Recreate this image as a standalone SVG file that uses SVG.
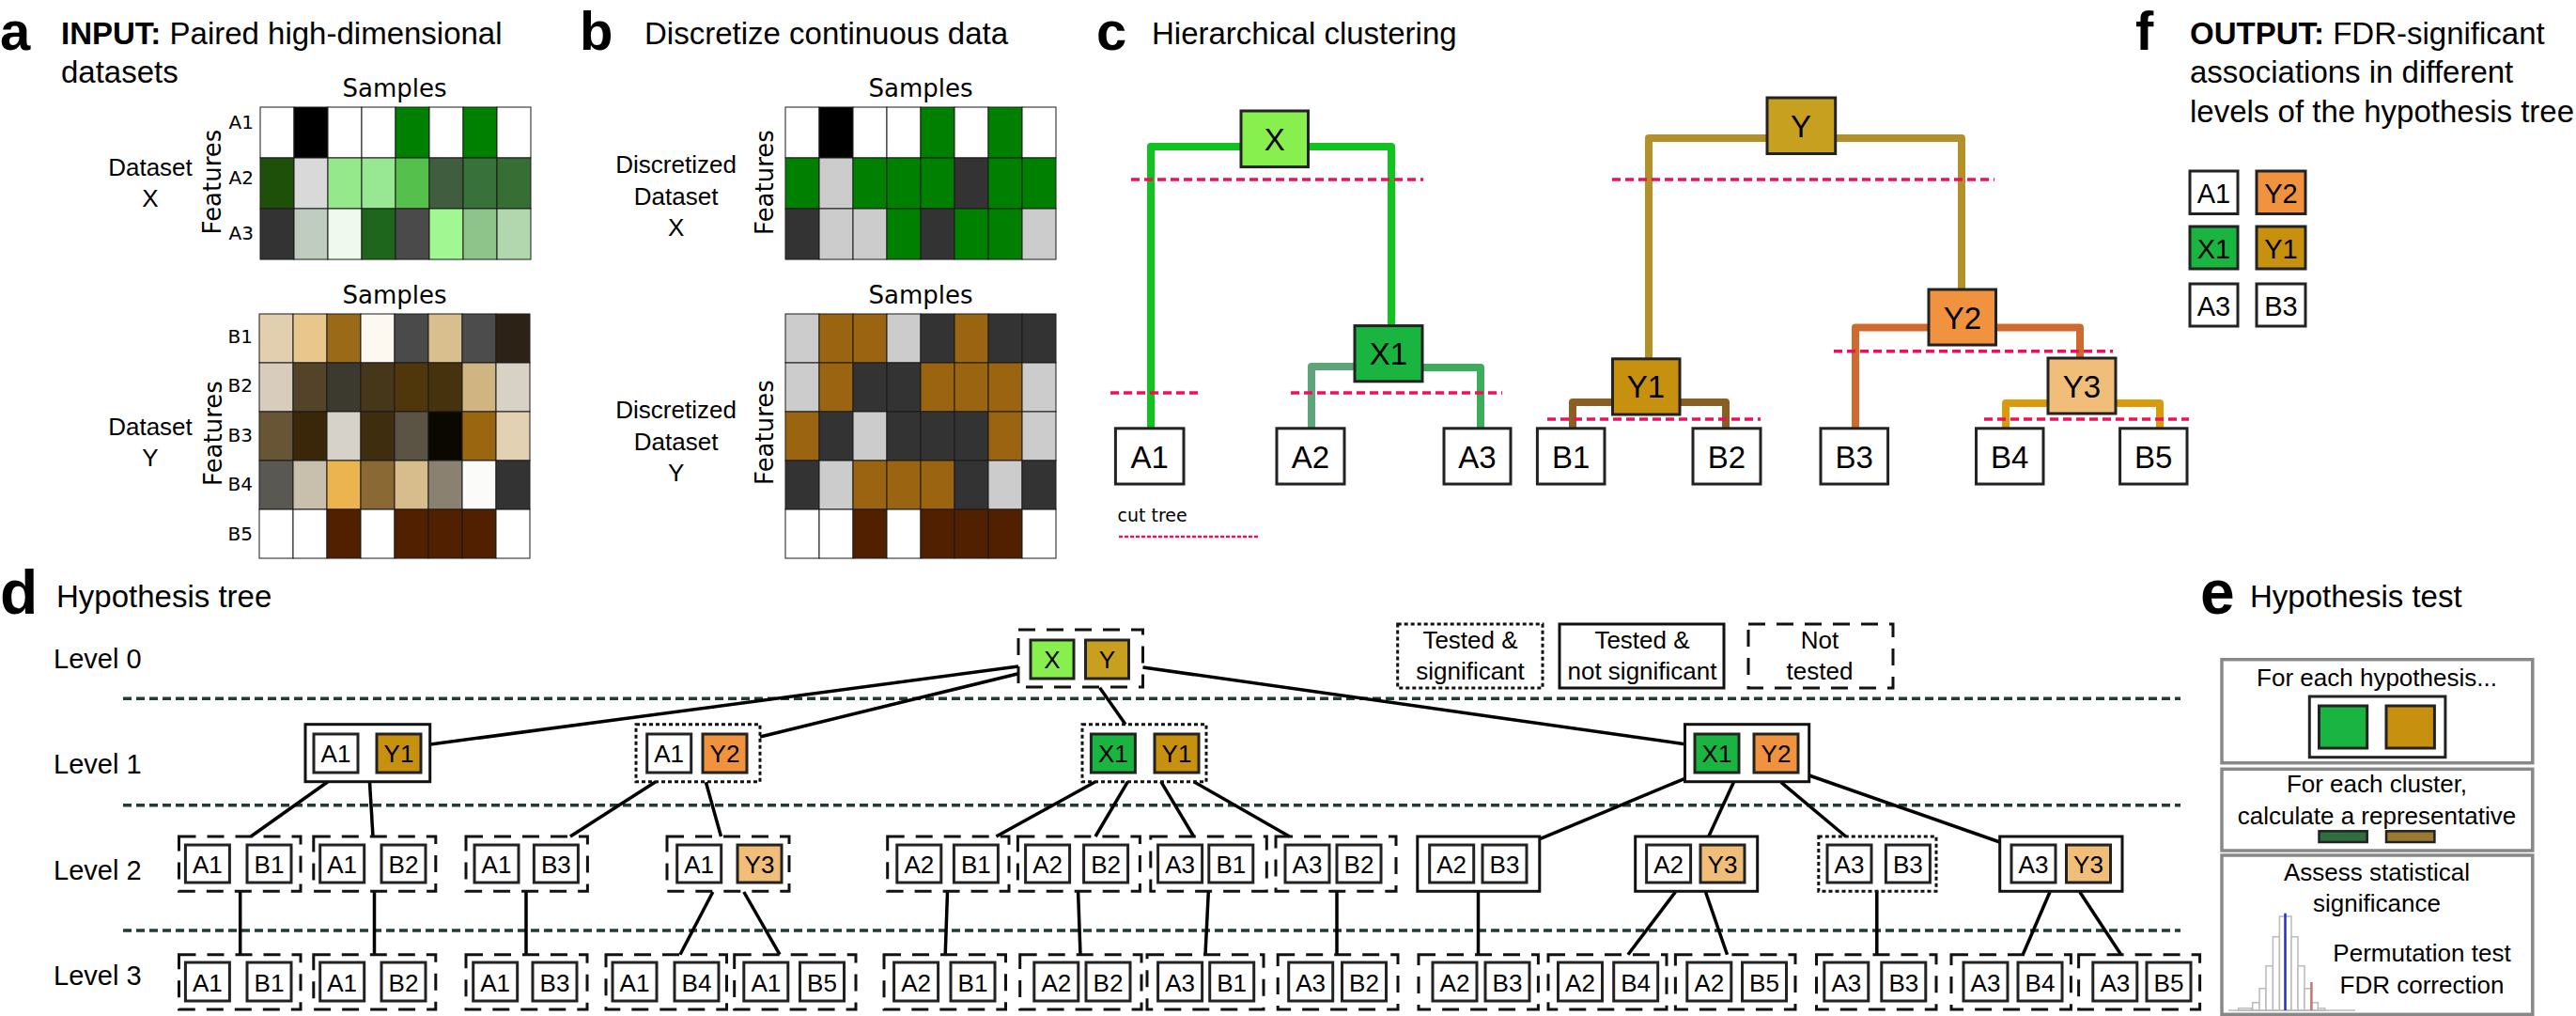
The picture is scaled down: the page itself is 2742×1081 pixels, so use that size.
<svg xmlns="http://www.w3.org/2000/svg" width="2742" height="1081" viewBox="0 0 2742 1081">
<style>
text{font-family:"Liberation Sans",Arial,sans-serif;fill:#000}
.dj{font-family:"DejaVu Sans",sans-serif}
.pl{font-size:58px;font-weight:bold}
.pl2{font-size:66px;font-weight:bold}
.ti{font-size:33px}
.hm rect{stroke:#1a1a1a;stroke-width:1}
.cb{stroke:#222;stroke-width:3}
.ct{font-size:33px;text-anchor:middle}
.cut{stroke:#f0105a;stroke-width:3.5;stroke-dasharray:9 5;fill:none}
.tr{fill:none;stroke-width:8;stroke-linejoin:round}
.ib{stroke:#222;stroke-width:3}
.nt{font-size:26px;text-anchor:middle}
.ft{font-size:29px;text-anchor:middle}
.dash{fill:none;stroke:#111;stroke-width:3;stroke-dasharray:18 12}
.dot{fill:none;stroke:#111;stroke-width:3;stroke-dasharray:4 3}
.sol{fill:none;stroke:#111;stroke-width:3}
.sep{stroke:#1e3d38;stroke-width:3.5;stroke-dasharray:9 5}
.cn line{stroke:#000;stroke-width:3.5}
.eb{fill:#fff;stroke:#888;stroke-width:3.5}
.et{font-size:26px;text-anchor:middle}
.lv{font-size:29px}
.hl{font-size:20px;text-anchor:end}
.sm{font-size:26px;text-anchor:middle}
.ds{font-size:26px;text-anchor:middle}
.hist rect{fill:#fff;stroke:#bbb;stroke-width:1.5}
</style>

<!-- Panel letters and titles -->
<g id="titles">
<text class="pl" x="0" y="53">a</text>
<text class="ti" x="65" y="47"><tspan font-weight="bold">INPUT:</tspan> Paired high-dimensional</text>
<text class="ti" x="65" y="88">datasets</text>
<text class="pl" x="617" y="53">b</text>
<text class="ti" x="686" y="47">Discretize continuous data</text>
<text class="pl" x="1167" y="53">c</text>
<text class="ti" x="1226" y="47">Hierarchical clustering</text>
<text class="pl" x="2273" y="53">f</text>
<text class="ti" x="2331" y="47"><tspan font-weight="bold">OUTPUT:</tspan> FDR-significant</text>
<text class="ti" x="2331" y="88">associations in different</text>
<text class="ti" x="2331" y="129.5" font-size="32.5">levels of the hypothesis tree</text>
<text class="pl2" x="0" y="653">d</text>
<text class="ti" x="60" y="646">Hypothesis tree</text>
<text class="pl2" x="2342" y="653">e</text>
<text class="ti" x="2395" y="646">Hypothesis test</text>
</g>

<!-- Panel a -->
<g id="panel-a">
<text class="dj sm" x="420" y="103">Samples</text>
<text class="dj sm" x="420" y="323">Samples</text>
<text class="dj sm" transform="rotate(-90 235 193.5)" x="235" y="193.5">Features</text>
<text class="dj sm" transform="rotate(-90 236 461)" x="236" y="461">Features</text>
<text class="dj hl" x="270" y="137">A1</text>
<text class="dj hl" x="270" y="196">A2</text>
<text class="dj hl" x="270" y="255">A3</text>
<text class="dj hl" x="269" y="365" font-size="19">B1</text>
<text class="dj hl" x="269" y="417" font-size="19">B2</text>
<text class="dj hl" x="269" y="470" font-size="19">B3</text>
<text class="dj hl" x="269" y="522" font-size="19">B4</text>
<text class="dj hl" x="269" y="575" font-size="19">B5</text>
<text class="ds" x="160" y="187">Dataset</text>
<text class="ds" x="160" y="220">X</text>
<text class="ds" x="160" y="462.5">Dataset</text>
<text class="ds" x="160" y="496">Y</text>
<g class="hm" id="heat-ax">
<rect x="277" y="114" width="36" height="54" fill="#ffffff"/><rect x="313" y="114" width="36" height="54" fill="#000000"/><rect x="349" y="114" width="36" height="54" fill="#ffffff"/><rect x="385" y="114" width="36" height="54" fill="#ffffff"/><rect x="421" y="114" width="36" height="54" fill="#008000"/><rect x="457" y="114" width="36" height="54" fill="#ffffff"/><rect x="493" y="114" width="36" height="54" fill="#008000"/><rect x="529" y="114" width="36" height="54" fill="#ffffff"/>
<rect x="277" y="168" width="36" height="54" fill="#1f500a"/><rect x="313" y="168" width="36" height="54" fill="#d9d9d9"/><rect x="349" y="168" width="36" height="54" fill="#95e98a"/><rect x="385" y="168" width="36" height="54" fill="#98e792"/><rect x="421" y="168" width="36" height="54" fill="#55c04c"/><rect x="457" y="168" width="36" height="54" fill="#405e3f"/><rect x="493" y="168" width="36" height="54" fill="#387139"/><rect x="529" y="168" width="36" height="54" fill="#376e33"/>
<rect x="277" y="222" width="36" height="54" fill="#333333"/><rect x="313" y="222" width="36" height="54" fill="#c1ccc0"/><rect x="349" y="222" width="36" height="54" fill="#eff9ee"/><rect x="385" y="222" width="36" height="54" fill="#1d661b"/><rect x="421" y="222" width="36" height="54" fill="#4a4a4a"/><rect x="457" y="222" width="36" height="54" fill="#a1f893"/><rect x="493" y="222" width="36" height="54" fill="#8ec48a"/><rect x="529" y="222" width="36" height="54" fill="#b2d7ae"/>
</g>
<g class="hm" id="heat-ay">
<rect x="276" y="334" width="36" height="52" fill="#e2cfb0"/><rect x="312" y="334" width="36" height="52" fill="#e8c68c"/><rect x="348" y="334" width="36" height="52" fill="#9a6a18"/><rect x="384" y="334" width="36" height="52" fill="#fdf9f1"/><rect x="420" y="334" width="36" height="52" fill="#4a4a4a"/><rect x="456" y="334" width="36" height="52" fill="#dabf8e"/><rect x="492" y="334" width="36" height="52" fill="#4c4c4c"/><rect x="528" y="334" width="36" height="52" fill="#2c2316"/>
<rect x="276" y="386" width="36" height="52" fill="#d8cdbc"/><rect x="312" y="386" width="36" height="52" fill="#534329"/><rect x="348" y="386" width="36" height="52" fill="#3c392f"/><rect x="384" y="386" width="36" height="52" fill="#46361a"/><rect x="420" y="386" width="36" height="52" fill="#4f360b"/><rect x="456" y="386" width="36" height="52" fill="#46320c"/><rect x="492" y="386" width="36" height="52" fill="#d0b482"/><rect x="528" y="386" width="36" height="52" fill="#d8d1c6"/>
<rect x="276" y="438" width="36" height="52" fill="#675535"/><rect x="312" y="438" width="36" height="52" fill="#3a2709"/><rect x="348" y="438" width="36" height="52" fill="#d6d2ca"/><rect x="384" y="438" width="36" height="52" fill="#3f2d10"/><rect x="420" y="438" width="36" height="52" fill="#5b5445"/><rect x="456" y="438" width="36" height="52" fill="#0b0802"/><rect x="492" y="438" width="36" height="52" fill="#9b6610"/><rect x="528" y="438" width="36" height="52" fill="#e2d1b2"/>
<rect x="276" y="490" width="36" height="52" fill="#5a5853"/><rect x="312" y="490" width="36" height="52" fill="#c8bfad"/><rect x="348" y="490" width="36" height="52" fill="#ecb44f"/><rect x="384" y="490" width="36" height="52" fill="#8b6934"/><rect x="420" y="490" width="36" height="52" fill="#d8bd8c"/><rect x="456" y="490" width="36" height="52" fill="#8a8171"/><rect x="492" y="490" width="36" height="52" fill="#fbfbf9"/><rect x="528" y="490" width="36" height="52" fill="#333333"/>
<rect x="276" y="542" width="36" height="52" fill="#ffffff"/><rect x="312" y="542" width="36" height="52" fill="#ffffff"/><rect x="348" y="542" width="36" height="52" fill="#502000"/><rect x="384" y="542" width="36" height="52" fill="#ffffff"/><rect x="420" y="542" width="36" height="52" fill="#502000"/><rect x="456" y="542" width="36" height="52" fill="#502000"/><rect x="492" y="542" width="36" height="52" fill="#502000"/><rect x="528" y="542" width="36" height="52" fill="#ffffff"/>
</g>
</g>

<!-- Panel b -->
<g id="panel-b">
<text class="dj sm" x="980" y="103">Samples</text>
<text class="dj sm" x="980" y="323">Samples</text>
<text class="dj sm" transform="rotate(-90 823 194)" x="823" y="194">Features</text>
<text class="dj sm" transform="rotate(-90 823 460)" x="823" y="460">Features</text>
<text class="ds" x="719.6" y="184">Discretized</text>
<text class="ds" x="719.6" y="218">Dataset</text>
<text class="ds" x="719.6" y="251">X</text>
<text class="ds" x="719.6" y="445">Discretized</text>
<text class="ds" x="719.6" y="479">Dataset</text>
<text class="ds" x="719.6" y="512">Y</text>
<g class="hm" id="heat-bx">
<rect x="836" y="114" width="36" height="54" fill="#ffffff"/><rect x="872" y="114" width="36" height="54" fill="#000000"/><rect x="908" y="114" width="36" height="54" fill="#ffffff"/><rect x="944" y="114" width="36" height="54" fill="#ffffff"/><rect x="980" y="114" width="36" height="54" fill="#008000"/><rect x="1016" y="114" width="36" height="54" fill="#ffffff"/><rect x="1052" y="114" width="36" height="54" fill="#008000"/><rect x="1088" y="114" width="36" height="54" fill="#ffffff"/>
<rect x="836" y="168" width="36" height="54" fill="#008000"/><rect x="872" y="168" width="36" height="54" fill="#cccccc"/><rect x="908" y="168" width="36" height="54" fill="#008000"/><rect x="944" y="168" width="36" height="54" fill="#008000"/><rect x="980" y="168" width="36" height="54" fill="#008000"/><rect x="1016" y="168" width="36" height="54" fill="#333333"/><rect x="1052" y="168" width="36" height="54" fill="#008000"/><rect x="1088" y="168" width="36" height="54" fill="#008000"/>
<rect x="836" y="222" width="36" height="54" fill="#333333"/><rect x="872" y="222" width="36" height="54" fill="#cccccc"/><rect x="908" y="222" width="36" height="54" fill="#cccccc"/><rect x="944" y="222" width="36" height="54" fill="#008000"/><rect x="980" y="222" width="36" height="54" fill="#333333"/><rect x="1016" y="222" width="36" height="54" fill="#008000"/><rect x="1052" y="222" width="36" height="54" fill="#008000"/><rect x="1088" y="222" width="36" height="54" fill="#cccccc"/>
</g>
<g class="hm" id="heat-by">
<rect x="836" y="334" width="36" height="52" fill="#cccccc"/><rect x="872" y="334" width="36" height="52" fill="#9a6410"/><rect x="908" y="334" width="36" height="52" fill="#9a6410"/><rect x="944" y="334" width="36" height="52" fill="#cccccc"/><rect x="980" y="334" width="36" height="52" fill="#333333"/><rect x="1016" y="334" width="36" height="52" fill="#9a6410"/><rect x="1052" y="334" width="36" height="52" fill="#333333"/><rect x="1088" y="334" width="36" height="52" fill="#333333"/>
<rect x="836" y="386" width="36" height="52" fill="#cccccc"/><rect x="872" y="386" width="36" height="52" fill="#9a6410"/><rect x="908" y="386" width="36" height="52" fill="#333333"/><rect x="944" y="386" width="36" height="52" fill="#333333"/><rect x="980" y="386" width="36" height="52" fill="#9a6410"/><rect x="1016" y="386" width="36" height="52" fill="#9a6410"/><rect x="1052" y="386" width="36" height="52" fill="#9a6410"/><rect x="1088" y="386" width="36" height="52" fill="#cccccc"/>
<rect x="836" y="438" width="36" height="52" fill="#9a6410"/><rect x="872" y="438" width="36" height="52" fill="#333333"/><rect x="908" y="438" width="36" height="52" fill="#cccccc"/><rect x="944" y="438" width="36" height="52" fill="#333333"/><rect x="980" y="438" width="36" height="52" fill="#333333"/><rect x="1016" y="438" width="36" height="52" fill="#333333"/><rect x="1052" y="438" width="36" height="52" fill="#9a6410"/><rect x="1088" y="438" width="36" height="52" fill="#cccccc"/>
<rect x="836" y="490" width="36" height="52" fill="#333333"/><rect x="872" y="490" width="36" height="52" fill="#cccccc"/><rect x="908" y="490" width="36" height="52" fill="#9a6410"/><rect x="944" y="490" width="36" height="52" fill="#9a6410"/><rect x="980" y="490" width="36" height="52" fill="#9a6410"/><rect x="1016" y="490" width="36" height="52" fill="#333333"/><rect x="1052" y="490" width="36" height="52" fill="#cccccc"/><rect x="1088" y="490" width="36" height="52" fill="#333333"/>
<rect x="836" y="542" width="36" height="52" fill="#ffffff"/><rect x="872" y="542" width="36" height="52" fill="#ffffff"/><rect x="908" y="542" width="36" height="52" fill="#502000"/><rect x="944" y="542" width="36" height="52" fill="#ffffff"/><rect x="980" y="542" width="36" height="52" fill="#502000"/><rect x="1016" y="542" width="36" height="52" fill="#502000"/><rect x="1052" y="542" width="36" height="52" fill="#502000"/><rect x="1088" y="542" width="36" height="52" fill="#ffffff"/>
</g>
</g>

<!-- Panel c: dendrogram -->
<g id="c-connectors">
<path class="tr" stroke="#10c31e" d="M1321 156H1225V456"/>
<path class="tr" stroke="#10c31e" d="M1392 156H1481V347"/>
<path class="tr" stroke="#5fa57a" d="M1442 390H1396V456"/>
<path class="tr" stroke="#3cad5c" d="M1514 391H1576V456"/>
<path class="tr" stroke="#b39128" d="M1881 147H1755V382"/>
<path class="tr" stroke="#b39128" d="M1954 147H2088V308"/>
<path class="tr" stroke="#8a5f22" d="M1716 428H1674V456"/>
<path class="tr" stroke="#8a5f22" d="M1788 428H1837V456"/>
<path class="tr" stroke="#cf6a2e" d="M2053 348.5H1975V456"/>
<path class="tr" stroke="#cf6a2e" d="M2124 348.5H2214V381"/>
<path class="tr" stroke="#d99a0c" d="M2180 429H2135V456"/>
<path class="tr" stroke="#d99a0c" d="M2252 429H2299V456"/>
</g>
<g id="c-X"><rect class="cb" x="1321" y="118" width="71.5" height="59.6" fill="#88f04e"/><text class="ct" x="1356.8" y="160">X</text></g>
<g id="c-X1"><rect class="cb" x="1442" y="346.6" width="72" height="59.2" fill="#1ab540"/><text class="ct" x="1478" y="388">X1</text></g>
<g id="c-Y"><rect class="cb" x="1881" y="104" width="72.7" height="59.5" fill="#c8a020"/><text class="ct" x="1917" y="146">Y</text></g>
<g id="c-Y1"><rect class="cb" x="1716.5" y="381.8" width="71.5" height="59.2" fill="#c8900f"/><text class="ct" x="1752" y="423">Y1</text></g>
<g id="c-Y2"><rect class="cb" x="2053" y="308" width="71.5" height="59" fill="#f0923e"/><text class="ct" x="2089" y="349.5">Y2</text></g>
<g id="c-Y3"><rect class="cb" x="2180" y="381" width="72" height="59" fill="#f0be78"/><text class="ct" x="2216" y="422.5">Y3</text></g>
<g id="c-A1"><rect class="cb" x="1187.4" y="455.8" width="72.6" height="59.2" fill="#fff"/><text class="ct" x="1223.7" y="497.5">A1</text></g>
<g id="c-A2"><rect class="cb" x="1359" y="455.8" width="72" height="59.2" fill="#fff"/><text class="ct" x="1395" y="497.5">A2</text></g>
<g id="c-A3"><rect class="cb" x="1537" y="455.8" width="71" height="59.2" fill="#fff"/><text class="ct" x="1572.5" y="497.5">A3</text></g>
<g id="c-B1"><rect class="cb" x="1636.4" y="455.8" width="71.6" height="59.2" fill="#fff"/><text class="ct" x="1672.2" y="497.5">B1</text></g>
<g id="c-B2"><rect class="cb" x="1802" y="455.8" width="72" height="59.2" fill="#fff"/><text class="ct" x="1838" y="497.5">B2</text></g>
<g id="c-B3"><rect class="cb" x="1938" y="455.8" width="71.6" height="59.2" fill="#fff"/><text class="ct" x="1973.8" y="497.5">B3</text></g>
<g id="c-B4"><rect class="cb" x="2103.5" y="455.8" width="71.5" height="59.2" fill="#fff"/><text class="ct" x="2139.2" y="497.5">B4</text></g>
<g id="c-B5"><rect class="cb" x="2256.6" y="455.8" width="71.4" height="59.2" fill="#fff"/><text class="ct" x="2292.3" y="497.5">B5</text></g>
<g id="c-cuts">
<line class="cut" x1="1204" y1="191" x2="1515" y2="191"/>
<line class="cut" x1="1716" y1="191" x2="2123" y2="191"/>
<line class="cut" x1="1182" y1="418" x2="1275" y2="418"/>
<line class="cut" x1="1374" y1="418" x2="1599" y2="418"/>
<line class="cut" x1="1647" y1="446" x2="1874" y2="446"/>
<line class="cut" x1="1952" y1="373.7" x2="2249" y2="373.7"/>
<line class="cut" x1="2112" y1="446" x2="2330" y2="446"/>
<text class="dj" x="1189.5" y="555" font-size="19">cut tree</text>
<line x1="1191" y1="571" x2="1339" y2="571" stroke="#f0105a" stroke-width="2.5" stroke-dasharray="4 2"/>
</g>

<!-- Panel f -->
<g id="f-A1"><rect class="cb" x="2331" y="182" width="51" height="45.5" fill="#fff"/><text class="ft" x="2356.5" y="216">A1</text></g>
<g id="f-Y2"><rect class="cb" x="2402" y="182" width="52" height="45.5" fill="#f0923e"/><text class="ft" x="2428" y="216">Y2</text></g>
<g id="f-X1"><rect class="cb" x="2331" y="241" width="51" height="45" fill="#1ab540"/><text class="ft" x="2356.5" y="275">X1</text></g>
<g id="f-Y1"><rect class="cb" x="2402" y="241" width="52" height="45" fill="#c8900f"/><text class="ft" x="2428" y="275">Y1</text></g>
<g id="f-A3"><rect class="cb" x="2331" y="302" width="51" height="45" fill="#fff"/><text class="ft" x="2356.5" y="336">A3</text></g>
<g id="f-B3"><rect class="cb" x="2402" y="302" width="52" height="45" fill="#fff"/><text class="ft" x="2428" y="336">B3</text></g>

<!-- Panel d -->
<g id="d-levels">
<text class="lv" x="57" y="711">Level 0</text>
<text class="lv" x="57" y="823">Level 1</text>
<text class="lv" x="57" y="936">Level 2</text>
<text class="lv" x="57" y="1048">Level 3</text>
<line class="sep" x1="131" y1="743.3" x2="2321" y2="743.3"/>
<line class="sep" x1="131" y1="856.7" x2="2321" y2="856.7"/>
<line class="sep" x1="131" y1="990" x2="2321" y2="990"/>
</g>
<g id="d-legend">
<rect class="dot" x="1487.7" y="664" width="154.3" height="68"/>
<text class="et" x="1565" y="690">Tested &amp;</text><text class="et" x="1565" y="722.7">significant</text>
<rect class="sol" x="1660" y="664" width="175" height="68"/>
<text class="et" x="1748" y="690">Tested &amp;</text><text class="et" x="1748" y="722.7">not significant</text>
<rect class="dash" x="1861" y="664" width="154" height="68"/>
<text class="et" x="1937" y="690">Not</text><text class="et" x="1937" y="722.7">tested</text>
</g>
<g id="d-connectors" class="cn">
<line x1="1084" y1="709" x2="458" y2="792"/>
<line x1="1084" y1="716.7" x2="809" y2="784"/>
<line x1="1170.6" y1="731.7" x2="1198" y2="770.7"/>
<line x1="1216.5" y1="710" x2="1793.5" y2="791.7"/>
<line x1="349" y1="831.7" x2="267" y2="890"/>
<line x1="393.5" y1="832.3" x2="397" y2="890"/>
<line x1="698" y1="831.7" x2="607" y2="890"/>
<line x1="751.4" y1="832.3" x2="767.5" y2="890"/>
<line x1="1166" y1="831.7" x2="1060.4" y2="890"/>
<line x1="1200.5" y1="831.7" x2="1166" y2="890"/>
<line x1="1235.8" y1="831.7" x2="1270.7" y2="890"/>
<line x1="1270.7" y1="831.7" x2="1372.6" y2="890"/>
<line x1="1793.5" y1="828.3" x2="1639.7" y2="892.3"/>
<line x1="1845.4" y1="832.3" x2="1818.7" y2="890"/>
<line x1="1895.9" y1="832.3" x2="1964.7" y2="890"/>
<line x1="1925.7" y1="825" x2="2128.7" y2="896"/>
<line x1="255.7" y1="948.3" x2="255.7" y2="1015.7"/>
<line x1="398.5" y1="948.3" x2="398.5" y2="1015.7"/>
<line x1="560" y1="948.3" x2="560" y2="1015.7"/>
<line x1="758.8" y1="949" x2="723.9" y2="1015.7"/>
<line x1="791.8" y1="949" x2="830" y2="1015.7"/>
<line x1="1008.5" y1="949" x2="1006.2" y2="1015.7"/>
<line x1="1147.6" y1="949" x2="1150" y2="1015.7"/>
<line x1="1286.3" y1="949" x2="1283" y2="1015.7"/>
<line x1="1423" y1="948.3" x2="1423" y2="1015.7"/>
<line x1="1573.5" y1="948.3" x2="1573.5" y2="1015.7"/>
<line x1="1783.4" y1="949" x2="1732.9" y2="1015.7"/>
<line x1="1815.5" y1="949" x2="1838.5" y2="1015.7"/>
<line x1="1997.8" y1="948.3" x2="1997.8" y2="1015.7"/>
<line x1="2182" y1="949" x2="2153.2" y2="1015.7"/>
<line x1="2213.8" y1="949" x2="2257.7" y2="1015.7"/>
</g>

<g id="d-L0"><rect class="dash" x="1084" y="670" width="132.5" height="61"/><rect class="ib" x="1097" y="681" width="46" height="41" fill="#88f04e"/><rect class="ib" x="1155.5" y="681" width="46" height="41" fill="#c8a020"/><text class="nt" x="1120" y="711">X</text><text class="nt" x="1178.5" y="711">Y</text></g>

<g id="d-L1-A1Y1"><rect class="sol" x="325" y="770.7" width="132.7" height="61"/><rect class="ib" x="334" y="781" width="47" height="41" fill="#fff"/><rect class="ib" x="401" y="781" width="47" height="41" fill="#c8900f"/><text class="nt" x="357.5" y="811">A1</text><text class="nt" x="424.5" y="811">Y1</text></g>
<g id="d-L1-A1Y2"><rect class="dot" x="677" y="770.7" width="132" height="61"/><rect class="ib" x="688.7" y="781" width="47" height="41" fill="#fff"/><rect class="ib" x="748" y="781" width="47" height="41" fill="#f0923e"/><text class="nt" x="712.2" y="811">A1</text><text class="nt" x="771.5" y="811">Y2</text></g>
<g id="d-L1-X1Y1"><rect class="dot" x="1152" y="770.7" width="132" height="61"/><rect class="ib" x="1161.4" y="781" width="47" height="41" fill="#1ab540"/><rect class="ib" x="1229" y="781" width="47" height="41" fill="#c8900f"/><text class="nt" x="1184.9" y="811">X1</text><text class="nt" x="1252.5" y="811">Y1</text></g>
<g id="d-L1-X1Y2"><rect class="sol" x="1793.5" y="770.7" width="132.2" height="61"/><rect class="ib" x="1804" y="781" width="47" height="41" fill="#1ab540"/><rect class="ib" x="1867" y="781" width="47" height="41" fill="#f0923e"/><text class="nt" x="1827.5" y="811">X1</text><text class="nt" x="1890.5" y="811">Y2</text></g>

<g id="d-L2-A1B1"><rect class="dash" x="190.5" y="890" width="129.5" height="58.3"/><rect class="ib" x="197.4" y="899" width="47" height="40" fill="#fff"/><rect class="ib" x="263" y="899" width="47" height="40" fill="#fff"/><text class="nt" x="220.9" y="929">A1</text><text class="nt" x="286.5" y="929">B1</text></g>
<g id="d-L2-A1B2"><rect class="dash" x="333.8" y="890" width="130" height="58.3"/><rect class="ib" x="340.7" y="899" width="47" height="40" fill="#fff"/><rect class="ib" x="406" y="899" width="47" height="40" fill="#fff"/><text class="nt" x="364.2" y="929">A1</text><text class="nt" x="429.5" y="929">B2</text></g>
<g id="d-L2-A1B3"><rect class="dash" x="496" y="890" width="129.4" height="58.3"/><rect class="ib" x="505" y="899" width="47" height="40" fill="#fff"/><rect class="ib" x="568.4" y="899" width="47" height="40" fill="#fff"/><text class="nt" x="528.5" y="929">A1</text><text class="nt" x="591.9" y="929">B3</text></g>
<g id="d-L2-A1Y3"><rect class="dash" x="710" y="890" width="130" height="58.3"/><rect class="ib" x="720.7" y="899" width="47" height="40" fill="#fff"/><rect class="ib" x="785" y="899" width="47" height="40" fill="#f0be78"/><text class="nt" x="744.2" y="929">A1</text><text class="nt" x="808.5" y="929">Y3</text></g>
<g id="d-L2-A2B1"><rect class="dash" x="944.7" y="890" width="129.3" height="58.3"/><rect class="ib" x="954.8" y="899" width="47" height="40" fill="#fff"/><rect class="ib" x="1015.4" y="899" width="47" height="40" fill="#fff"/><text class="nt" x="978.3" y="929">A2</text><text class="nt" x="1038.9" y="929">B1</text></g>
<g id="d-L2-A2B2"><rect class="dash" x="1083.4" y="890" width="130" height="58.3"/><rect class="ib" x="1091.6" y="899" width="47" height="40" fill="#fff"/><rect class="ib" x="1153.6" y="899" width="47" height="40" fill="#fff"/><text class="nt" x="1115.1" y="929">A2</text><text class="nt" x="1177.1" y="929">B2</text></g>
<g id="d-L2-A3B1"><rect class="dash" x="1224.8" y="890" width="123.5" height="58.3"/><rect class="ib" x="1232.6" y="899" width="47" height="40" fill="#fff"/><rect class="ib" x="1286.8" y="899" width="47" height="40" fill="#fff"/><text class="nt" x="1256.1" y="929">A3</text><text class="nt" x="1310.3" y="929">B1</text></g>
<g id="d-L2-A3B2"><rect class="dash" x="1358" y="890" width="128" height="58.3"/><rect class="ib" x="1368" y="899" width="47" height="40" fill="#fff"/><rect class="ib" x="1423" y="899" width="47" height="40" fill="#fff"/><text class="nt" x="1391.5" y="929">A3</text><text class="nt" x="1446.5" y="929">B2</text></g>
<g id="d-L2-A2B3"><rect class="sol" x="1508.8" y="890" width="130" height="58.3"/><rect class="ib" x="1521.7" y="899" width="47" height="40" fill="#fff"/><rect class="ib" x="1578" y="899" width="47" height="40" fill="#fff"/><text class="nt" x="1545.2" y="929">A2</text><text class="nt" x="1601.5" y="929">B3</text></g>
<g id="d-L2-A2Y3"><rect class="sol" x="1740.7" y="890" width="130" height="58.3"/><rect class="ib" x="1752.6" y="899" width="47" height="40" fill="#fff"/><rect class="ib" x="1810" y="899" width="47" height="40" fill="#f0be78"/><text class="nt" x="1776.1" y="929">A2</text><text class="nt" x="1833.5" y="929">Y3</text></g>
<g id="d-L2-A3B3"><rect class="dot" x="1935.8" y="890" width="125.2" height="58.3"/><rect class="ib" x="1945" y="899" width="47" height="40" fill="#fff"/><rect class="ib" x="2007.4" y="899" width="47" height="40" fill="#fff"/><text class="nt" x="1968.5" y="929">A3</text><text class="nt" x="2030.9" y="929">B3</text></g>
<g id="d-L2-A3Y3"><rect class="sol" x="2128.7" y="890" width="130.3" height="58.3"/><rect class="ib" x="2141" y="899" width="47" height="40" fill="#fff"/><rect class="ib" x="2199.5" y="899" width="47" height="40" fill="#f0be78"/><text class="nt" x="2164.5" y="929">A3</text><text class="nt" x="2223" y="929">Y3</text></g>

<g id="d-L3-A1B1"><rect class="dash" x="190.5" y="1015.7" width="129.5" height="58.3"/><rect class="ib" x="197.4" y="1024" width="47" height="41" fill="#fff"/><rect class="ib" x="263" y="1024" width="47" height="41" fill="#fff"/><text class="nt" x="220.9" y="1055">A1</text><text class="nt" x="286.5" y="1055">B1</text></g>
<g id="d-L3-A1B2"><rect class="dash" x="333.8" y="1015.7" width="130" height="58.3"/><rect class="ib" x="340.7" y="1024" width="47" height="41" fill="#fff"/><rect class="ib" x="406" y="1024" width="47" height="41" fill="#fff"/><text class="nt" x="364.2" y="1055">A1</text><text class="nt" x="429.5" y="1055">B2</text></g>
<g id="d-L3-A1B3"><rect class="dash" x="496" y="1015.7" width="129" height="58.3"/><rect class="ib" x="503.7" y="1024" width="47" height="41" fill="#fff"/><rect class="ib" x="567" y="1024" width="47" height="41" fill="#fff"/><text class="nt" x="527.2" y="1055">A1</text><text class="nt" x="590.5" y="1055">B3</text></g>
<g id="d-L3-A1B4"><rect class="dash" x="645" y="1015.7" width="128.5" height="58.3"/><rect class="ib" x="652" y="1024" width="47" height="41" fill="#fff"/><rect class="ib" x="718" y="1024" width="47" height="41" fill="#fff"/><text class="nt" x="675.5" y="1055">A1</text><text class="nt" x="741.5" y="1055">B4</text></g>
<g id="d-L3-A1B5"><rect class="dash" x="781.7" y="1015.7" width="129.3" height="58.3"/><rect class="ib" x="791.8" y="1024" width="47" height="41" fill="#fff"/><rect class="ib" x="851.5" y="1024" width="47" height="41" fill="#fff"/><text class="nt" x="815.3" y="1055">A1</text><text class="nt" x="875" y="1055">B5</text></g>
<g id="d-L3-A2B1"><rect class="dash" x="941" y="1015.7" width="129.5" height="58.3"/><rect class="ib" x="951.6" y="1024" width="47" height="41" fill="#fff"/><rect class="ib" x="1012" y="1024" width="47" height="41" fill="#fff"/><text class="nt" x="975.1" y="1055">A2</text><text class="nt" x="1035.5" y="1055">B1</text></g>
<g id="d-L3-A2B2"><rect class="dash" x="1085.7" y="1015.7" width="129.3" height="58.3"/><rect class="ib" x="1100.8" y="1024" width="47" height="41" fill="#fff"/><rect class="ib" x="1156" y="1024" width="47" height="41" fill="#fff"/><text class="nt" x="1124.3" y="1055">A2</text><text class="nt" x="1179.5" y="1055">B2</text></g>
<g id="d-L3-A3B1"><rect class="dash" x="1221" y="1015.7" width="124" height="58.3"/><rect class="ib" x="1232.6" y="1024" width="47" height="41" fill="#fff"/><rect class="ib" x="1287.7" y="1024" width="47" height="41" fill="#fff"/><text class="nt" x="1256.1" y="1055">A3</text><text class="nt" x="1311.2" y="1055">B1</text></g>
<g id="d-L3-A3B2"><rect class="dash" x="1360.2" y="1015.7" width="127.8" height="58.3"/><rect class="ib" x="1371.7" y="1024" width="47" height="41" fill="#fff"/><rect class="ib" x="1428.5" y="1024" width="47" height="41" fill="#fff"/><text class="nt" x="1395.2" y="1055">A3</text><text class="nt" x="1452" y="1055">B2</text></g>
<g id="d-L3-A2B3"><rect class="dash" x="1510" y="1015.7" width="127.4" height="58.3"/><rect class="ib" x="1525" y="1024" width="47" height="41" fill="#fff"/><rect class="ib" x="1581" y="1024" width="47" height="41" fill="#fff"/><text class="nt" x="1548.5" y="1055">A2</text><text class="nt" x="1604.5" y="1055">B3</text></g>
<g id="d-L3-A2B4"><rect class="dash" x="1648" y="1015.7" width="126" height="58.3"/><rect class="ib" x="1658.5" y="1024" width="47" height="41" fill="#fff"/><rect class="ib" x="1717.7" y="1024" width="47" height="41" fill="#fff"/><text class="nt" x="1682" y="1055">A2</text><text class="nt" x="1741.2" y="1055">B4</text></g>
<g id="d-L3-A2B5"><rect class="dash" x="1783.4" y="1015.7" width="127.6" height="58.3"/><rect class="ib" x="1795.8" y="1024" width="47" height="41" fill="#fff"/><rect class="ib" x="1854.5" y="1024" width="47" height="41" fill="#fff"/><text class="nt" x="1819.3" y="1055">A2</text><text class="nt" x="1878" y="1055">B5</text></g>
<g id="d-L3-A3B3"><rect class="dash" x="1933.5" y="1015.7" width="127.5" height="58.3"/><rect class="ib" x="1941.8" y="1024" width="47" height="41" fill="#fff"/><rect class="ib" x="2002.8" y="1024" width="47" height="41" fill="#fff"/><text class="nt" x="1965.3" y="1055">A3</text><text class="nt" x="2026.3" y="1055">B3</text></g>
<g id="d-L3-A3B4"><rect class="dash" x="2077" y="1015.7" width="127.4" height="58.3"/><rect class="ib" x="2090" y="1024" width="47" height="41" fill="#fff"/><rect class="ib" x="2148" y="1024" width="47" height="41" fill="#fff"/><text class="nt" x="2113.5" y="1055">A3</text><text class="nt" x="2171.5" y="1055">B4</text></g>
<g id="d-L3-A3B5"><rect class="dash" x="2212.6" y="1015.7" width="129" height="58.3"/><rect class="ib" x="2227.8" y="1024" width="47" height="41" fill="#fff"/><rect class="ib" x="2285" y="1024" width="47" height="41" fill="#fff"/><text class="nt" x="2251.3" y="1055">A3</text><text class="nt" x="2308.5" y="1055">B5</text></g>

<!-- Panel e -->
<g id="e-step1">
<rect class="eb" x="2365" y="701.7" width="330.8" height="110"/>
<text class="et" x="2530" y="730">For each hypothesis...</text>
<rect class="ib" x="2458.3" y="741" width="144.6" height="64.7" fill="#fff"/>
<rect class="ib" x="2468.5" y="751" width="51.2" height="45" fill="#1ab540"/>
<rect class="ib" x="2540" y="751" width="51.4" height="45" fill="#c8900f"/>
</g>
<g id="e-step2">
<rect class="eb" x="2365" y="818.3" width="330.8" height="86.7"/>
<text class="et" x="2530" y="843.3">For each cluster,</text>
<text class="et" x="2530" y="876.7">calculate a representative</text>
<rect x="2468.5" y="884.3" width="51.2" height="11.7" fill="#2e6e3e" stroke="#222" stroke-width="2.5"/>
<rect x="2540" y="884.3" width="51.4" height="11.7" fill="#9a7a30" stroke="#222" stroke-width="2.5"/>
</g>
<g id="e-step3">
<rect class="eb" x="2365" y="910" width="330.8" height="169.3"/>
<text class="et" x="2530" y="936.7">Assess statistical</text>
<text class="et" x="2530" y="970">significance</text>
<g class="hist">
<rect x="2382.6" y="1072.7" width="14" height="2.3"/>
<rect x="2397.7" y="1066.7" width="7.3" height="8.3"/>
<rect x="2405" y="1051.7" width="7" height="23.3"/>
<rect x="2412" y="1027.7" width="7.4" height="47.3"/>
<rect x="2419.4" y="996.7" width="7" height="78.3"/>
<rect x="2426.4" y="975" width="12.6" height="100"/>
<rect x="2439" y="996.7" width="7" height="78.3"/>
<rect x="2446" y="1027.7" width="7" height="47.3"/>
<rect x="2453" y="1051.7" width="7.4" height="23.3"/>
<rect x="2460.4" y="1066.7" width="7" height="8.3"/>
<rect x="2467.4" y="1072.7" width="7.4" height="2.3"/>
</g>
<line x1="2372" y1="1075" x2="2507" y2="1075" stroke="#bbb" stroke-width="1.5"/>
<line x1="2432.5" y1="971.7" x2="2432.5" y2="1075" stroke="#1a2ee0" stroke-width="2.5"/>
<line x1="2460.4" y1="1045" x2="2460.4" y2="1075" stroke="#d07070" stroke-width="2.5"/>
<text class="et" x="2578" y="1023.3">Permutation test</text>
<text class="et" x="2578" y="1056.7">FDR correction</text>
</g>
</svg>
